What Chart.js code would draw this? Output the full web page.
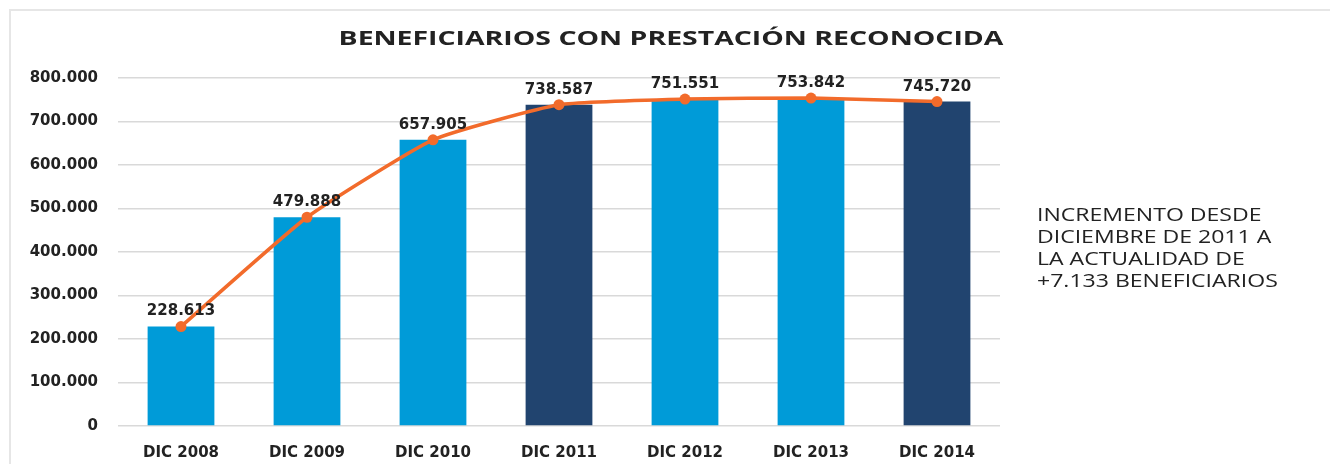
<!DOCTYPE html>
<html>
<head>
<meta charset="utf-8">
<script src="https://cdn.jsdelivr.net/npm/chart.js@4.4.1/dist/chart.umd.min.js"></script>
<style>
  html, body { margin: 0; padding: 0; background: #fff; overflow: hidden; }
  #frame { position: absolute; left: 9px; top: 9px; width: 1400px; height: 520px; border: 2px solid #e6e6e6; box-sizing: border-box; }
  #wrap { position: absolute; left: 0; top: 0; width: 1330px; height: 464px; }
  #note { position: absolute; left: 1037px; top: 203px; font-family: "Open Sans", sans-serif; font-size: 18px; line-height: 22px; color: #222;
          white-space: nowrap; transform: scaleX(1.28); transform-origin: 0 0; }
</style>
</head>
<body>
<div id="frame"></div>
<div id="wrap"><canvas id="chart" width="1330" height="464"></canvas></div>
<div id="note">INCREMENTO DESDE<br>DICIEMBRE DE 2011 A<br>LA ACTUALIDAD DE<br>+7.133 BENEFICIARIOS</div>
<script>
// data
const categories = ['DIC 2008', 'DIC 2009', 'DIC 2010', 'DIC 2011', 'DIC 2012', 'DIC 2013', 'DIC 2014'];
const beneficiarios = [228613, 479888, 657905, 738587, 751551, 753842, 745720];
const yTicks = [0, 100000, 200000, 300000, 400000, 500000, 600000, 700000, 800000];
const chartTitle = 'BENEFICIARIOS CON PRESTACIÓN RECONOCIDA';

const LIGHT = '#009BD8', DARK = '#21446F', ORANGE = '#F26B2B';
const barColors = categories.map(c => (c === 'DIC 2011' || c === 'DIC 2014') ? DARK : LIGHT);

// 1.234.567 style
const fmt = v => String(v).replace(/\B(?=(\d{3})+(?!\d))/g, '.');

const labelsPlugin = {
    id: 'labels',
    afterDatasetsDraw(chart) {
        const ctx = chart.ctx;
        const meta = chart.getDatasetMeta(1);
        ctx.save();
        ctx.font = 'bold 15px "DejaVu Sans"';
        ctx.fillStyle = '#222';
        ctx.textAlign = 'center';
        ctx.textBaseline = 'middle';
        meta.data.forEach((pt, i) => {
            ctx.fillText(fmt(beneficiarios[i]), pt.x, pt.y - 15);
        });
        // title, widened like the original
        ctx.font = 'bold 20px "Open Sans"';
        ctx.translate(671, 39);
        ctx.scale(1.42, 1);
        ctx.fillText(chartTitle, 0, 0);
        ctx.restore();
    }
};

new Chart(document.getElementById('chart'), {
    data: {
        labels: categories,
        datasets: [
            {
                type: 'bar',
                data: beneficiarios,
                backgroundColor: barColors,
                categoryPercentage: 1,
                barPercentage: 0.53,
                order: 2
            },
            {
                type: 'line',
                data: beneficiarios,
                borderColor: ORANGE,
                backgroundColor: ORANGE,
                borderWidth: 3.5,
                pointRadius: 5.5,
                pointBackgroundColor: ORANGE,
                pointBorderWidth: 0,
                tension: 0.15,
                order: 1
            }
        ]
    },
    options: {
        responsive: false,
        animation: false,
        layout: { padding: { top: 78, right: 330, bottom: 0, left: 0 } },
        plugins: { legend: { display: false }, tooltip: { enabled: false }, title: { display: false } },
        scales: {
            x: {
                grid: { display: false },
                border: { display: false },
                ticks: { color: '#222', font: { family: 'DejaVu Sans', weight: 'bold', size: 15 }, padding: 10 },
                afterFit: s => { s.height = 38; }
            },
            y: {
                min: 0,
                max: 800000,
                afterBuildTicks: s => { s.ticks = yTicks.map(v => ({ value: v })); },
                grid: { color: '#d9d9d9', lineWidth: 1.5, drawTicks: false },
                border: { display: false },
                ticks: { color: '#222', font: { family: 'DejaVu Sans', weight: 'bold', size: 15 }, padding: 20, callback: v => fmt(v) },
                afterFit: s => { s.width = 118; }
            }
        }
    },
    plugins: [labelsPlugin]
});
</script>
</body>
</html>
